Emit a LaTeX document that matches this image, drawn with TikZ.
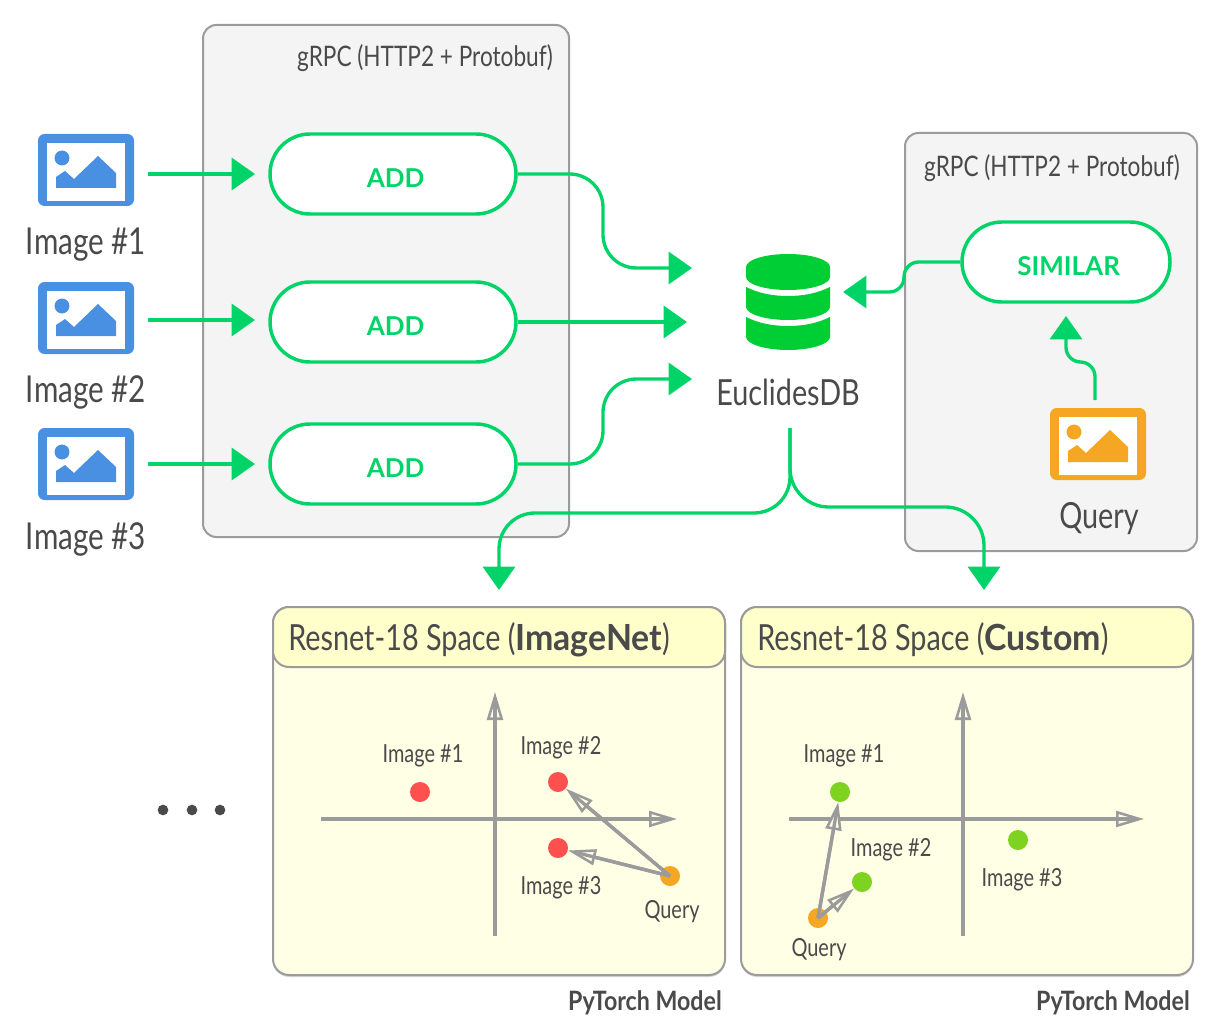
\documentclass[tikz,border=0pt]{standalone}
\usepackage{fontspec}
\setmainfont[FakeStretch=0.8]{Lato}
\newfontfamily\addfont{Lato}
\newfontfamily\titlebold[FakeStretch=0.94]{Lato}
\newfontfamily\modelbold[FakeStretch=0.87]{Lato}
\usetikzlibrary{arrows.meta,calc}
\definecolor{flow}{HTML}{00D468}
\definecolor{dbgreen}{HTML}{00CE35}
\definecolor{ink}{HTML}{4A4A4A}
\definecolor{edge}{HTML}{9B9B9B}
\definecolor{panelbg}{HTML}{F4F4F4}
\definecolor{headbg}{HTML}{FFFFCC}
\definecolor{bodybg}{HTML}{FFFFE6}
\definecolor{picblue}{HTML}{4A90E2}
\definecolor{picorange}{HTML}{F5A623}
\definecolor{dotred}{HTML}{FF5050}
\definecolor{dotgreen}{HTML}{7ED321}
\newcommand\fs[1]{\fontsize{#1}{#1}\selectfont}
\tikzset{
  panel/.style={draw=edge,line width=1.5pt,fill=panelbg,rounded corners=10pt,inner sep=0pt},
  space/.style={draw=edge,line width=1.5pt,fill=bodybg,rounded corners=12pt,inner sep=0pt,minimum width=339pt,minimum height=276pt},
  spacehead/.style={draw=edge,line width=1.5pt,fill=headbg,rounded corners=12pt,inner sep=0pt,minimum width=339pt,minimum height=45pt},
  spaceshadow/.style={fill=black!16,rounded corners=12pt,inner sep=0pt,minimum width=339pt,minimum height=276pt},
  pill/.style={draw=flow,line width=2.6pt,fill=white,rounded corners=30pt,inner sep=0pt,minimum width=184.5pt,minimum height=60pt,
    text=flow,font=\addfont\bfseries\fs{19.5},text height=20pt,text depth=0pt},
  big/.style={text=ink,font=\fs{27},inner sep=0pt},
  imglabel/.style={text=ink,font=\fs{27.8},inner sep=0pt},
  small/.style={text=ink,font=\fs{18.7},inner sep=0pt},
  strong/.style={text=ink,font=\modelbold\bfseries\fs{20},inner sep=0pt},
  grpc/.style={text=ink,font=\fs{21.2},inner sep=0pt},
  title/.style={text=ink,font=\fs{27},inner sep=0pt,anchor=west},
  flowline/.style={draw=flow,line width=2.5pt,rounded corners=#1,-{Triangle[length=17.5pt,width=24pt]}},
  flowline/.default=0pt,
  vec/.style={draw=edge,line width=2.5pt,-{Triangle[open,fill=bodybg,length=21pt,width=12pt,line width=1.9pt]},
    postaction={draw=edge,-,shorten >=5pt}},
  dot/.style={circle,inner sep=0pt,minimum size=15pt,fill=#1},
  ell/.style={circle,inner sep=0pt,minimum size=8pt,fill=ink},
  pics/imgicon/.style={code={
    \fill[#1,rounded corners=5pt] (-48,-36) rectangle (48,36);
    \fill[white] (-39,-27) rectangle (39,31);
    \fill[#1] (-24,-12) circle[radius=5.6pt];
    \fill[#1] (-30,18) -- (-30,7) -- (-21,1) -- (-12,9) -- (12,-14) -- (30,3) -- (30,18) -- cycle;
  }}
}
\begin{document}
\begin{tikzpicture}[x=0.75pt,y=-0.75pt]
\useasboundingbox (0,0) rectangle (1216,1034);
\fill[white] (0,0) rectangle (1216,1034);

% grey panels
\node[panel,minimum width=274.5pt,minimum height=384pt] (panelA) at (386,281) {};
\node[panel,minimum width=219pt,minimum height=313.5pt] (panelB) at (1051,342) {};
\node[grpc,anchor=east] (grpcA) at (553,58) {gRPC (HTTP2 + Protobuf)};
\node[grpc,anchor=east] (grpcB) at (1180,168) {gRPC (HTTP2 + Protobuf)};

% image icons
\pic at (86,170) {imgicon=picblue};
\pic at (86,318) {imgicon=picblue};
\pic at (86,464) {imgicon=picblue};
\pic at (1098,444) {imgicon=picorange};
\node[imglabel] (lab1) at (86,245) {Image \#1};
\node[imglabel] (lab2) at (86,392) {Image \#2};
\node[imglabel] (lab3) at (86,539) {Image \#3};
\node[big] (labq) at (1099,519) {Query};

% operations
\node[pill] (add1) at (393,174) {\hspace{4pt}ADD};
\node[pill] (add2) at (393,322) {\hspace{4pt}ADD};
\node[pill] (add3) at (393,464) {\hspace{4pt}ADD};
\node[pill,minimum width=156pt] (sim) at (1066,262) {\hspace{4pt}SIMILAR};

% database
\node[inner sep=0pt,minimum width=63pt,minimum height=72pt] (db) at (788,302) {};
\fill[dbgreen] (746,267) .. controls (746,259.8) and (765,254) .. (788,254)
  .. controls (811,254) and (830,259.8) .. (830,267) -- (830,277)
  .. controls (830,284.2) and (811,290) .. (788,290)
  .. controls (765,290) and (746,284.2) .. (746,277) -- cycle;
\fill[dbgreen] (746,287) .. controls (758,293) and (772,296) .. (788,296)
  .. controls (804,296) and (818,293) .. (830,287) -- (830,307)
  .. controls (830,314) and (811,320) .. (788,320)
  .. controls (765,320) and (746,314) .. (746,307) -- cycle;
\fill[dbgreen] (746,317) .. controls (758,323) and (772,326) .. (788,326)
  .. controls (804,326) and (818,323) .. (830,317) -- (830,337)
  .. controls (830,344) and (811,350) .. (788,350)
  .. controls (765,350) and (746,344) .. (746,337) -- cycle;
\node[big] (dblabel) at (788,392) {EuclidesDB};

% connector ends
\coordinate (inA) at (255,174);
\coordinate (inB) at (255,320);
\coordinate (inC) at (255,464);
\coordinate (srcA) at (148,174);
\coordinate (srcB) at (148,320);
\coordinate (srcC) at (148,464);
\coordinate (dbA) at (692,268);
\coordinate (dbB) at (687,322);
\coordinate (dbC) at (692,379);
\coordinate (dbD) at (843,292);
\coordinate (bendA) at (603,268);
\coordinate (bendC) at (603,379);
\coordinate (bendD) at (904,292);
\coordinate (out) at (790,428);
\coordinate (outL) at (499,590);
\coordinate (outR) at (984,590);
\coordinate (bendL) at (499,513);
\coordinate (bendR) at (984,507);
\coordinate (qsrc) at (1095,400);
\coordinate (qtip) at (1066,316);
\coordinate (bendQ) at (1066,362);

\draw[flowline] (srcA) -- (inA);
\draw[flowline] (srcB) -- (inB);
\draw[flowline] (srcC) -- (inC);
\draw[flowline=25pt] (add1.east) -| (bendA) -- (dbA);
\draw[flowline] (add2.east) -- (dbB);
\draw[flowline=25pt] (add3.east) -| (bendC) -- (dbC);
\draw[flowline=11pt] (sim.west) -| (bendD) -- (dbD);
\draw[flowline=11pt] (qsrc) |- (bendQ) -- (qtip);
\draw[flowline=27pt] (out) |- (bendL) -- (outL);
\draw[flowline=29pt] (out) |- (bendR) -- (outR);

% ellipsis
\node[ell] (e1) at (163,810) {};
\node[ell] (e2) at (192,810) {};
\node[ell] (e3) at (220,810) {};

% spaces
\node[spaceshadow] (shA) at (499,793) {};
\node[spaceshadow] (shB) at (967,793) {};
\node[space] (spA) at (499,791) {};
\node[space] (spB) at (967,791) {};
\node[spacehead] (hdA) at (499,637) {};
\node[spacehead] (hdB) at (967,637) {};
\node[title] (tA) at (288,640) {Resnet-18 Space ({\titlebold\bfseries ImageNet})};
\node[title] (tB) at (757,640) {Resnet-18 Space ({\titlebold\bfseries Custom})};
\node[strong,anchor=east] (ptA) at (722,1003) {PyTorch Model};
\node[strong,anchor=east] (ptB) at (1190,1003) {PyTorch Model};

% axes left
\coordinate (axAl) at (321,819);
\coordinate (axAr) at (677,819);
\coordinate (axAb) at (495,936);
\coordinate (axAt) at (495,692);
\draw[vec] (axAl) -- (axAr);
\draw[vec] (axAb) -- (axAt);
% axes right
\coordinate (axBl) at (789,819);
\coordinate (axBr) at (1144,819);
\coordinate (axBb) at (963,936);
\coordinate (axBt) at (963,692);
\draw[vec] (axBl) -- (axBr);
\draw[vec] (axBb) -- (axBt);

% left dots
\node[dot=dotred] (a1) at (420,792) {};
\node[dot=dotred] (a2) at (558,782) {};
\node[dot=dotred] (a3) at (558,848) {};
\node[dot=picorange] (aq) at (670,876) {};
\node[small] (la1) at (423,756) {Image \#1};
\node[small] (la2) at (561,748) {Image \#2};
\node[small] (la3) at (561,888) {Image \#3};
\node[small] (laq) at (672,912) {Query};
\draw[vec] (aq.center) -- (a2);
\draw[vec] (aq.center) -- (a3);

% right dots
\node[dot=dotgreen] (b1) at (840,792) {};
\node[dot=dotgreen] (b2) at (862,882) {};
\node[dot=dotgreen] (b3) at (1018,840) {};
\node[dot=picorange] (bq) at (818,918) {};
\node[small] (lb1) at (844,756) {Image \#1};
\node[small] (lb2) at (891,850) {Image \#2};
\node[small] (lb3) at (1022,880) {Image \#3};
\node[small] (lbq) at (819,950) {Query};
\draw[vec] (bq.center) -- (b1);
\draw[vec] (bq.center) -- (b2);
\end{tikzpicture}
\end{document}
